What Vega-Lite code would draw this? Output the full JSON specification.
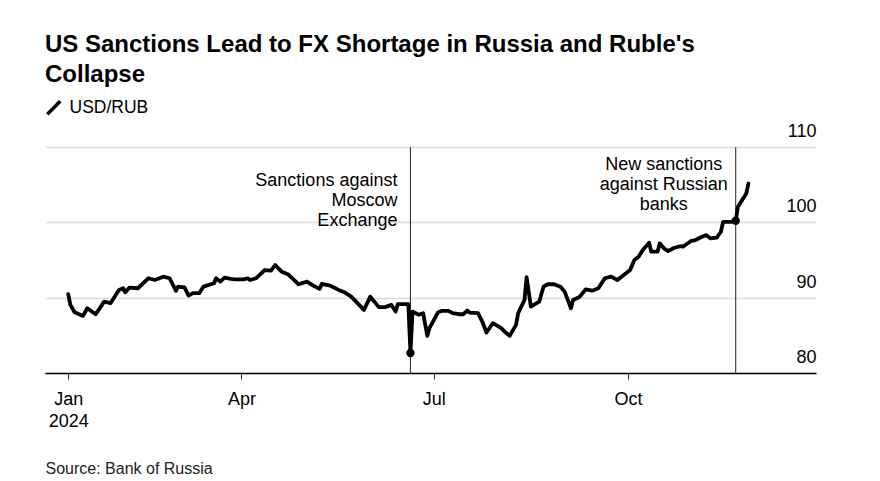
{
  "$schema": "https://vega.github.io/schema/vega-lite/v6.json",
  "width": 771,
  "height": 226,
  "autosize": {"type": "none"},
  "padding": {"left": 45, "top": 147, "right": 64, "bottom": 108},
  "background": "white",
  "config": {
    "view": {"stroke": null},
    "font": "Liberation Sans",
    "text": {"font": "Liberation Sans"}
  },
  "title": {
    "text": ["US Sanctions Lead to FX Shortage in Russia and Ruble's", "Collapse"],
    "anchor": "start",
    "frame": "group",
    "font": "Liberation Sans",
    "fontSize": 24,
    "fontWeight": "bold",
    "lineHeight": 30,
    "color": "#000",
    "offset": 12
  },
  "datasets": {
    "fx": [
      {"date": "2024-01-10", "rate": 90.46},
      {"date": "2024-01-11", "rate": 89.04},
      {"date": "2024-01-13", "rate": 88.07},
      {"date": "2024-01-17", "rate": 87.58},
      {"date": "2024-01-19", "rate": 88.6},
      {"date": "2024-01-23", "rate": 87.8},
      {"date": "2024-01-27", "rate": 89.48},
      {"date": "2024-01-30", "rate": 89.27},
      {"date": "2024-02-03", "rate": 91.03},
      {"date": "2024-02-05", "rate": 91.25},
      {"date": "2024-02-06", "rate": 90.72},
      {"date": "2024-02-08", "rate": 91.33},
      {"date": "2024-02-12", "rate": 91.25},
      {"date": "2024-02-17", "rate": 92.58},
      {"date": "2024-02-20", "rate": 92.35},
      {"date": "2024-02-24", "rate": 92.79},
      {"date": "2024-02-27", "rate": 92.58},
      {"date": "2024-03-01", "rate": 90.9},
      {"date": "2024-03-02", "rate": 91.46},
      {"date": "2024-03-05", "rate": 91.38},
      {"date": "2024-03-07", "rate": 90.27},
      {"date": "2024-03-09", "rate": 90.59},
      {"date": "2024-03-12", "rate": 90.59},
      {"date": "2024-03-14", "rate": 91.46},
      {"date": "2024-03-19", "rate": 91.91},
      {"date": "2024-03-20", "rate": 92.58},
      {"date": "2024-03-22", "rate": 92.13},
      {"date": "2024-03-24", "rate": 92.66},
      {"date": "2024-03-27", "rate": 92.49},
      {"date": "2024-03-29", "rate": 92.44},
      {"date": "2024-04-02", "rate": 92.44},
      {"date": "2024-04-04", "rate": 92.58},
      {"date": "2024-04-05", "rate": 92.35},
      {"date": "2024-04-08", "rate": 92.58},
      {"date": "2024-04-12", "rate": 93.67},
      {"date": "2024-04-15", "rate": 93.58},
      {"date": "2024-04-17", "rate": 94.34},
      {"date": "2024-04-20", "rate": 93.45},
      {"date": "2024-04-23", "rate": 93.11},
      {"date": "2024-04-27", "rate": 92.05},
      {"date": "2024-04-28", "rate": 91.78},
      {"date": "2024-05-02", "rate": 92.13},
      {"date": "2024-05-05", "rate": 91.6},
      {"date": "2024-05-08", "rate": 91.16},
      {"date": "2024-05-09", "rate": 91.82},
      {"date": "2024-05-13", "rate": 91.6},
      {"date": "2024-05-17", "rate": 91.03},
      {"date": "2024-05-20", "rate": 90.67},
      {"date": "2024-05-23", "rate": 90.14},
      {"date": "2024-05-29", "rate": 88.38},
      {"date": "2024-06-01", "rate": 90.14},
      {"date": "2024-06-05", "rate": 88.74},
      {"date": "2024-06-08", "rate": 88.74},
      {"date": "2024-06-11", "rate": 89.04},
      {"date": "2024-06-13", "rate": 88.16},
      {"date": "2024-06-14", "rate": 89.13},
      {"date": "2024-06-19", "rate": 89.13},
      {"date": "2024-06-20", "rate": 82.65},
      {"date": "2024-06-21", "rate": 88.16},
      {"date": "2024-06-24", "rate": 87.72},
      {"date": "2024-06-26", "rate": 87.94},
      {"date": "2024-06-28", "rate": 84.94},
      {"date": "2024-06-29", "rate": 85.95},
      {"date": "2024-07-03", "rate": 88.02},
      {"date": "2024-07-05", "rate": 88.25},
      {"date": "2024-07-08", "rate": 88.25},
      {"date": "2024-07-10", "rate": 87.94},
      {"date": "2024-07-13", "rate": 87.8},
      {"date": "2024-07-15", "rate": 87.8},
      {"date": "2024-07-17", "rate": 88.29},
      {"date": "2024-07-18", "rate": 88.02},
      {"date": "2024-07-22", "rate": 87.94},
      {"date": "2024-07-24", "rate": 86.83},
      {"date": "2024-07-26", "rate": 85.37},
      {"date": "2024-07-29", "rate": 86.61},
      {"date": "2024-08-02", "rate": 85.95},
      {"date": "2024-08-04", "rate": 85.37},
      {"date": "2024-08-06", "rate": 84.94},
      {"date": "2024-08-09", "rate": 86.39},
      {"date": "2024-08-10", "rate": 87.94},
      {"date": "2024-08-13", "rate": 89.7},
      {"date": "2024-08-14", "rate": 92.71},
      {"date": "2024-08-16", "rate": 88.82},
      {"date": "2024-08-20", "rate": 89.48},
      {"date": "2024-08-22", "rate": 91.46},
      {"date": "2024-08-24", "rate": 91.78},
      {"date": "2024-08-27", "rate": 91.78},
      {"date": "2024-08-30", "rate": 91.46},
      {"date": "2024-09-01", "rate": 90.8},
      {"date": "2024-09-04", "rate": 88.6},
      {"date": "2024-09-05", "rate": 89.7},
      {"date": "2024-09-08", "rate": 90.1},
      {"date": "2024-09-11", "rate": 91.1},
      {"date": "2024-09-14", "rate": 90.93},
      {"date": "2024-09-17", "rate": 91.25},
      {"date": "2024-09-20", "rate": 92.58},
      {"date": "2024-09-23", "rate": 92.79},
      {"date": "2024-09-26", "rate": 92.35},
      {"date": "2024-10-02", "rate": 93.67},
      {"date": "2024-10-04", "rate": 94.99},
      {"date": "2024-10-06", "rate": 95.43},
      {"date": "2024-10-08", "rate": 96.32},
      {"date": "2024-10-11", "rate": 97.29},
      {"date": "2024-10-12", "rate": 96.1},
      {"date": "2024-10-15", "rate": 96.1},
      {"date": "2024-10-16", "rate": 97.21},
      {"date": "2024-10-18", "rate": 96.55},
      {"date": "2024-10-20", "rate": 96.19},
      {"date": "2024-10-23", "rate": 96.63},
      {"date": "2024-10-26", "rate": 96.85},
      {"date": "2024-10-27", "rate": 96.76},
      {"date": "2024-10-31", "rate": 97.55},
      {"date": "2024-11-02", "rate": 97.65},
      {"date": "2024-11-04", "rate": 97.95},
      {"date": "2024-11-07", "rate": 98.31},
      {"date": "2024-11-09", "rate": 97.87},
      {"date": "2024-11-12", "rate": 97.98},
      {"date": "2024-11-14", "rate": 98.75},
      {"date": "2024-11-15", "rate": 100.07},
      {"date": "2024-11-19", "rate": 100.07},
      {"date": "2024-11-21", "rate": 100.2},
      {"date": "2024-11-22", "rate": 102.05},
      {"date": "2024-11-24", "rate": 102.94},
      {"date": "2024-11-26", "rate": 103.83},
      {"date": "2024-11-27", "rate": 105.15}
    ],
    "events": [
      {"id": 1, "date": "2024-06-20", "rate": 82.65, "label": ["Sanctions against", "Moscow", "Exchange"]},
      {"id": 2, "date": "2024-11-21", "rate": 100.2, "label": ["New sanctions", "against Russian", "banks"]}
    ]
  },
  "layer": [
    {
      "data": {"name": "events"},
      "mark": {"type": "rule", "color": "#222", "strokeWidth": 1},
      "encoding": {
        "x": {"field": "date", "type": "temporal"}
      }
    },
    {
      "data": {"name": "fx"},
      "mark": {"type": "line", "strokeWidth": 3.8, "strokeJoin": "round", "strokeCap": "round"},
      "encoding": {
        "x": {
          "field": "date",
          "type": "temporal",
          "scale": {
            "type": "utc",
            "domain": [
              {"year": 2023, "month": 12, "date": 30, "utc": true},
              {"year": 2024, "month": 12, "date": 29, "utc": true}
            ]
          },
          "axis": {
            "values": [
              {"year": 2024, "month": 1, "date": 10, "utc": true},
              {"year": 2024, "month": 4, "date": 1, "utc": true},
              {"year": 2024, "month": 7, "date": 1, "utc": true},
              {"year": 2024, "month": 10, "date": 1, "utc": true}
            ],
            "labelExpr": "utcmonth(datum.value) == 0 ? [utcFormat(datum.value, '%b'), utcFormat(datum.value, '%Y')] : utcFormat(datum.value, '%b')",
            "labelFont": "Liberation Sans",
            "labelFontSize": 18,
            "labelColor": "#000",
            "labelPadding": 11,
            "labelLineHeight": 22.5,
            "labelBaseline": "top",
            "labelAlign": "center",
            "labelOverlap": false,
            "labelFlush": false,
            "grid": false,
            "domainColor": "#000",
            "domainWidth": 1.5,
            "tickColor": "#333",
            "tickSize": 6,
            "tickWidth": 1,
            "title": "Source: Bank of Russia",
            "titleFont": "Liberation Sans",
            "titleFontSize": 16,
            "titleFontWeight": "normal",
            "titleColor": "#222",
            "titleAnchor": "start",
            "titleAlign": "left",
            "titleBaseline": "alphabetic",
            "titleX": 0,
            "titleY": 100
          }
        },
        "y": {
          "field": "rate",
          "type": "quantitative",
          "scale": {"domain": [80, 110], "nice": false, "zero": false},
          "axis": {
            "orient": "right",
            "values": [80, 90, 100, 110],
            "grid": true,
            "gridColor": "#dcdcdc",
            "gridWidth": 1.5,
            "domain": false,
            "ticks": false,
            "tickSize": 0,
            "labelPadding": 0,
            "labelAlign": "right",
            "labelBaseline": "alphabetic",
            "labelOffset": -10.5,
            "labelFont": "Liberation Sans",
            "labelFontSize": 18,
            "labelColor": "#000",
            "title": null
          }
        },
        "color": {
          "datum": "USD/RUB",
          "scale": {"range": ["#000000"]},
          "legend": {
            "orient": "none",
            "legendX": 0,
            "legendY": -48,
            "title": null,
            "symbolType": "M-1,1L1,-1",
            "symbolSize": 165,
            "symbolStrokeWidth": 3.5,
            "symbolStrokeColor": "#000",
            "labelFont": "Liberation Sans",
            "labelFontSize": 17.5,
            "labelColor": "#000",
            "labelOffset": 7
          }
        }
      }
    },
    {
      "data": {"name": "events"},
      "mark": {"type": "point", "filled": true, "color": "#000", "size": 70, "opacity": 1},
      "encoding": {
        "x": {"field": "date", "type": "temporal"},
        "y": {"field": "rate", "type": "quantitative"}
      }
    },
    {
      "data": {"name": "events"},
      "transform": [{"filter": "datum.id == 1"}],
      "mark": {"type": "text", "align": "right", "baseline": "alphabetic", "dx": -13, "fontSize": 18, "lineHeight": 20, "font": "Liberation Sans", "color": "#000"},
      "encoding": {
        "x": {"field": "date", "type": "temporal"},
        "y": {"datum": 104.8},
        "text": {"field": "label"}
      }
    },
    {
      "data": {"name": "events"},
      "transform": [{"filter": "datum.id == 2"}],
      "mark": {"type": "text", "align": "center", "baseline": "alphabetic", "dx": -72, "fontSize": 18, "lineHeight": 20, "font": "Liberation Sans", "color": "#000"},
      "encoding": {
        "x": {"field": "date", "type": "temporal"},
        "y": {"datum": 106.9},
        "text": {"field": "label"}
      }
    }
  ]
}
